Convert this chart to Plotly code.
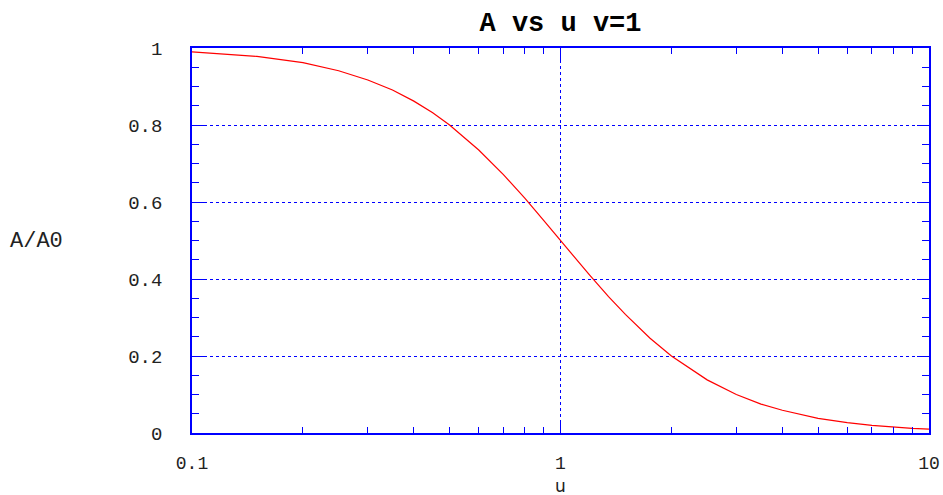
import plotly.graph_objects as go

# values
u_vals = [0.1, 0.15, 0.2, 0.25, 0.3, 0.35, 0.4, 0.45, 0.5, 0.6, 0.7, 0.8, 0.9, 1.0,
          1.1, 1.2, 1.35, 1.5, 1.75, 2.0, 2.5, 3.0, 3.5, 4.0, 5.0, 6.0, 7.0, 8.0, 9.0, 10.0]
a_vals = [0.99, 0.978, 0.962, 0.941, 0.917, 0.891, 0.862, 0.832, 0.800, 0.735, 0.671,
          0.610, 0.552, 0.500, 0.452, 0.410, 0.354, 0.308, 0.246, 0.200, 0.138, 0.100,
          0.075, 0.059, 0.038, 0.027, 0.020, 0.015, 0.012, 0.010]
x_tickvals = [0.1, 1, 10]
x_ticktext = ["0.1", "1", "10"]
y_tickvals = [0, 0.2, 0.4, 0.6, 0.8, 1]
y_ticktext = ["0", "0.2", "0.4", "0.6", "0.8", "1"]

BLUE = "#0000ff"
ytickfont = dict(family="Liberation Mono, DejaVu Sans Mono, monospace", size=19, color="#222")
xtickfont = dict(family="Liberation Mono, DejaVu Sans Mono, monospace", size=18, color="#222")

L, R, T, B = 192, 14, 48, 62
PW, PH = 943 - L - R, 495 - T - B

fig = go.Figure()
fig.add_trace(go.Scatter(x=u_vals, y=a_vals, mode="lines",
                         line=dict(color="#ff0000", width=1.2), hoverinfo="skip"))

fig.update_layout(
    width=943, height=495,
    margin=dict(l=L, r=R, t=T, b=B, autoexpand=False),
    paper_bgcolor="white", plot_bgcolor="white",
    showlegend=False,
    title=dict(text="<b>A vs u v=1</b>", x=(L + PW / 2) / 943, xanchor="center",
               y=1 - 22 / 495, yanchor="middle",
               font=dict(family="Courier New, Liberation Mono, monospace", size=27, color="black")),
    xaxis=dict(type="log", range=[-1, 1], tickvals=x_tickvals, ticktext=x_ticktext,
               automargin=False,
               showline=True, linecolor=BLUE, linewidth=1.5, mirror="ticks",
               ticks="inside", ticklen=12, tickcolor=BLUE, tickwidth=1,
               showgrid=True, gridcolor=BLUE, griddash="3px,3px", gridwidth=1.4,
               zeroline=False, tickfont=xtickfont, ticklabelstandoff=13,
               minor=dict(tickvals=[0.2, 0.3, 0.4, 0.5, 0.6, 0.7, 0.8, 0.9,
                                    2, 3, 4, 5, 6, 7, 8, 9],
                          ticks="inside", ticklen=6, tickcolor=BLUE, showgrid=False)),
    yaxis=dict(range=[0, 1], tickvals=y_tickvals, ticktext=y_ticktext,
               automargin=False,
               showline=True, linecolor=BLUE, linewidth=1.5, mirror="ticks",
               ticks="inside", ticklen=12, tickcolor=BLUE, tickwidth=1,
               showgrid=True, gridcolor=BLUE, griddash="3px,3px", gridwidth=1.4,
               zeroline=False, tickfont=ytickfont, ticklabelstandoff=24,
               minor=dict(dtick=0.05, ticks="inside", ticklen=7, tickcolor=BLUE, showgrid=False)),
    annotations=[
        dict(text="A/A0", xref="paper", yref="paper", x=(8 - L) / PW, y=(495 - B - 242) / PH,
             xanchor="left", yanchor="middle", showarrow=False,
             font=dict(family="Courier New, Liberation Mono, monospace", size=22, color="#222")),
        dict(text="u", xref="paper", yref="paper", x=0.5, y=-B / PH,
             xanchor="center", yanchor="bottom", showarrow=False, yshift=-3,
             font=dict(family="DejaVu Sans, sans-serif", size=17, color="#222")),
    ],
)

fig.write_html("out.html", config={"displayModeBar": False},
               post_script="document.body.style.margin='0';document.body.style.overflow='hidden';")
